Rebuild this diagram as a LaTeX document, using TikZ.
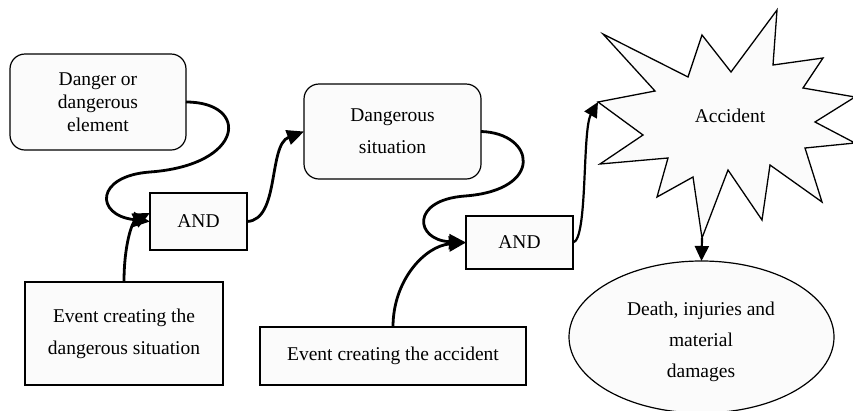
\documentclass[tikz,border=0pt]{standalone}
\usepackage{fontspec}
\setmainfont{Liberation Serif}
\usetikzlibrary{arrows.meta,shapes.geometric}

\definecolor{boxfill}{RGB}{251,251,251}

\tikzset{
  base/.style={draw=black, line width=1.2pt, fill=boxfill, inner sep=0pt, outer sep=0pt,
               align=center, font=\fontsize{19.5}{23}\selectfont},
  roundbox/.style={base, rectangle, rounded corners=15pt},
  sqbox/.style={base, rectangle},
  wide/.style={font=\fontsize{19.5}{32}\selectfont},
  oval/.style={base, ellipse},
  link/.style={line width=2.8pt, -{Triangle[length=17pt,width=15pt]}},
  thinlink/.style={line width=2.2pt, -{Triangle[length=15pt,width=14pt]}},
}

\begin{document}
\begin{tikzpicture}[x=1pt, y=-1pt]
  \useasboundingbox (0,0) rectangle (853,410);

  % boxes
  \node[roundbox, minimum width=176pt, minimum height=96pt] (danger) at (98,102)
       {Danger or\\dangerous\\element};
  \node[sqbox, minimum width=97pt, minimum height=57pt] (and1) at (198.5,221.5) {AND};
  \node[sqbox, wide, minimum width=198pt, minimum height=103pt] (ev1) at (124,333.5)
       {Event creating the\\dangerous situation};
  \node[roundbox, wide, minimum width=177pt, minimum height=95pt] (sit) at (392.5,131.5)
       {Dangerous\\situation};
  \node[sqbox, minimum width=107pt, minimum height=53pt] (and2) at (519.5,242.5) {AND};
  \node[sqbox, minimum width=266pt, minimum height=58pt] (ev2) at (393,356)
       {Event creating the accident};

  % outcome
  \node[oval, minimum width=265pt, minimum height=152pt] (harm) at (701.5,337) {};
  \node[font=\fontsize{19.5}{31}\selectfont, align=center] (harmtext) at (701,342)
       {Death, injuries and\\material\\damages};

  % accident burst
  \coordinate (p1) at (598,102);
  \coordinate (p2) at (655,91);
  \coordinate (p3) at (603,34);
  \coordinate (p4) at (688,77);
  \coordinate (p5) at (702,35);
  \coordinate (p6) at (731,72);
  \coordinate (p7) at (777,10);
  \coordinate (p8) at (773,65);
  \coordinate (p9) at (823,58);
  \coordinate (p10) at (803,88);
  \coordinate (p11) at (855,97);
  \coordinate (p12) at (815,122);
  \coordinate (p13) at (855,143);
  \coordinate (p14) at (805,148);
  \coordinate (p15) at (822,202);
  \coordinate (p16) at (770,165);
  \coordinate (p17) at (762,220);
  \coordinate (p18) at (728,170);
  \coordinate (p19) at (702,238);
  \coordinate (p20) at (693,177);
  \coordinate (p21) at (657,197);
  \coordinate (p22) at (668,158);
  \coordinate (p23) at (600,164);
  \coordinate (p24) at (643,135);
  \draw[line width=1.3pt, fill=boxfill, line join=miter]
    (p1) -- (p2) -- (p3) -- (p4) -- (p5) -- (p6) -- (p7) -- (p8) -- (p9) -- (p10) --
    (p11) -- (p12) -- (p13) -- (p14) -- (p15) -- (p16) -- (p17) -- (p18) -- (p19) --
    (p20) -- (p21) -- (p22) -- (p23) -- (p24) -- cycle;
  \node[font=\fontsize{19.5}{23}\selectfont] (accident) at (730,116) {Accident};

  % connectors
  \draw[link] (danger.east) .. controls (250,102) and (245,165) .. (150,172)
                            .. controls (95,176) and (95,215) .. (and1.west);
  \draw[link] (ev1.north) .. controls (124,245) and (132,222) .. (and1.170);
  \draw[link] (and1.east) .. controls (280,220) and (268,145) .. (sit.west);
  \draw[link] (sit.east) .. controls (535,133) and (545,190) .. (465,196)
                         .. controls (410,200) and (415,240) .. (and2.west);
  \draw[link] (ev2.north) .. controls (393,280) and (425,246) .. (and2.west);
  \draw[thinlink] (and2.east) .. controls (588,240) and (582,130) .. (p1);
  \draw[thinlink] (p19) -- (harm.north);
\end{tikzpicture}
\end{document}
